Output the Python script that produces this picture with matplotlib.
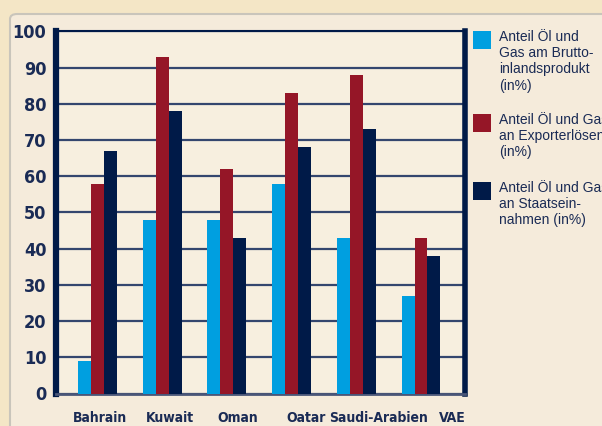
import matplotlib
matplotlib.use('Agg')
import matplotlib.pyplot as plt
from matplotlib.patches import FancyBboxPatch
import numpy as np

countries = ["Bahrain", "Kuwait", "Oman", "Oatar", "Saudi-Arabien", "VAE"]
gdp_share = [9, 48, 48, 58, 43, 27]
export_share = [58, 93, 62, 83, 88, 43]
revenue_share = [67, 78, 43, 68, 73, 38]
label_pos = [0.04, 1.12, 2.17, 3.22, 4.34, 5.48]  # labels sit a bit right of the groups
legend_texts = [
    "Anteil Öl und\nGas am Brutto-\ninlandsprodukt\n(in%)",
    "Anteil Öl und Gas\nan Exporterlösen\n(in%)",
    "Anteil Öl und Gas\nan Staatsein-\nnahmen (in%)",
]

CYAN = '#009fe0'
RED = '#951627'
NAVY = '#001a48'
TXT = '#1a2b55'
REG = ['Liberation Sans', 'DejaVu Sans']

W, H = 602, 426
fig = plt.figure(figsize=(W / 100, H / 100), dpi=100)
fig.patch.set_facecolor('#f4e6c6')

# rounded inner panel
panel = FancyBboxPatch((10 / W, -0.1), 1.2, (H - 14) / H + 0.1,
                       boxstyle="round,pad=0,rounding_size=0.012",
                       transform=fig.transFigure, facecolor='#f5ebdb',
                       edgecolor='#c9c5bb', linewidth=1.5, zorder=-10)
fig.patches.append(panel)

ax = fig.add_axes([56 / W, 1 - 393.5 / H, (465 - 56) / W, (393.5 - 31.5) / H])
ax.set_facecolor('#f7efdf')

x = np.arange(len(countries))
w = 0.2
ax.bar(x - w, gdp_share, w, color=CYAN, zorder=3)
ax.bar(x, export_share, w, color=RED, zorder=3)
ax.bar(x + w, revenue_share, w, color=NAVY, zorder=3)

ax.set_xlim(-0.64, 5.68)
ax.set_ylim(0, 100)
ax.set_yticks(range(0, 101, 10))
ax.yaxis.grid(True, color='#34466e', linewidth=1.6, zorder=1)
ax.set_axisbelow(True)
ax.tick_params(axis='y', length=0, pad=7, labelcolor=TXT)
for lab in ax.get_yticklabels():
    lab.set_fontfamily('DejaVu Sans')
    lab.set_fontweight('bold')
    lab.set_fontstretch('condensed')
    lab.set_fontsize(13)

ax.set_xticks(label_pos)
ax.set_xticklabels(countries, fontfamily='DejaVu Sans', fontweight='bold',
                   fontstretch='condensed', fontsize=10, color=TXT)
ax.tick_params(axis='x', length=0, pad=12.5)

ax.spines['left'].set_linewidth(4.5)
ax.spines['left'].set_color(NAVY)
ax.spines['right'].set_linewidth(4)
ax.spines['right'].set_color(NAVY)
ax.spines['top'].set_linewidth(1.5)
ax.spines['top'].set_color(NAVY)
ax.spines['bottom'].set_linewidth(2)
ax.spines['bottom'].set_color('#4a5678')

# legend drawn by hand so the text can run off the edge like the original
colors = [CYAN, RED, NAVY]
tops = [31, 114, 182]
for c, t, top in zip(colors, legend_texts, tops):
    fig.patches.append(plt.Rectangle((473 / W, 1 - (top + 18) / H), 18 / W, 18 / H,
                                     transform=fig.transFigure, facecolor=c,
                                     edgecolor='none'))
    fig.text(499 / W, 1 - (top - 1) / H, t, fontsize=10, color=TXT, family=REG,
             va='top', ha='left', linespacing=1.2)

fig.savefig('out.png', dpi=100, facecolor=fig.get_facecolor())
